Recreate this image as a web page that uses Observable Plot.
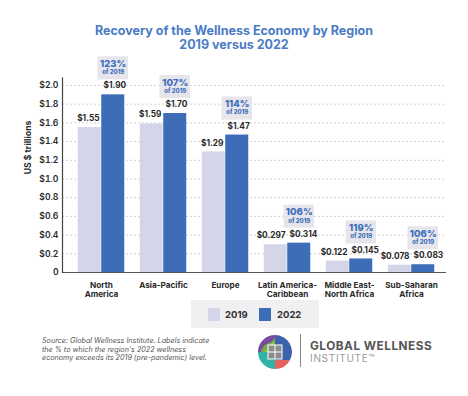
<!DOCTYPE html>
<html>
<head>
<meta charset="utf-8">
<script src="https://cdn.jsdelivr.net/npm/d3@7"></script>
<script src="https://cdn.jsdelivr.net/npm/@observablehq/plot@0.6"></script>
<style>
  body { margin: 0; background: #fff; }
  #wrap { position: relative; width: 468px; height: 396px; font-family: Inter, "Open Sans", sans-serif; overflow: hidden; }
  .title { height: 55px; box-sizing: border-box; padding-top: 24px; text-align: center; color: #4a7bc5; font-weight: 700; font-size: 12.5px; line-height: 14px; }
  #chart svg { display: block; }
  .legend { margin-left: 191px; width: 128px; height: 28px; background: #f0f0f3; position: relative; font-weight: 700; font-size: 9.5px; color: #333; }
  .legend .sw { position: absolute; top: 8px; width: 12px; height: 13px; }
  .legend .lb { position: absolute; top: 8px; line-height: 13px; }
  .footer { position: relative; height: 66px; }
  .source { position: absolute; left: 42px; top: 9px; white-space: nowrap; font-style: italic; font-size: 7.2px; line-height: 8.6px; color: #555; }
  .gwi1 { position: absolute; left: 310px; top: 11px; font-weight: 700; font-size: 11.8px; color: #555; letter-spacing: 0.5px; }
  .gwi2 { position: absolute; left: 310px; top: 24px; font-weight: 400; font-size: 10px; color: #9a9a9a; letter-spacing: 0.7px; }
  .vline { position: absolute; left: 300px; top: 6px; width: 1px; height: 33px; background: #888; }
  .logo { position: absolute; left: 255px; top: 4px; }
</style>
</head>
<body>
<div id="wrap">
  <div class="title">Recovery of the Wellness Economy by Region<br>2019 versus 2022</div>
  <div id="chart"></div>
  <div class="legend">
    <div class="sw" style="left:17px;background:#d5d5ea"></div><div class="lb" style="left:34px">2019</div>
    <div class="sw" style="left:68px;background:#3d6db6"></div><div class="lb" style="left:86px">2022</div>
  </div>
  <div class="footer">
    <div class="source">Source: Global Wellness Institute. Labels indicate<br>the % to which the region's 2022 wellness<br>economy exceeds its 2019 (pre-pandemic) level.</div>
    <svg class="logo" width="40" height="40" viewBox="0 0 40 40">
      <path d="M20,20 L20,3 A17,17 0 0 0 3,20 Z" fill="#7a4a9c"/>
      <path d="M20,20 L20,6 L8,20 Z" fill="#8dc04c"/>
      <path d="M9,20 L20,7 L20,10 A13,13 0 0 0 6,20 Z" fill="#6fae4a"/>
      <path d="M20,20 L20,3 A17,17 0 0 1 35,28 L20,28 Z" fill="#3b62aa"/>
      <path d="M20,20 L3,20 A17,17 0 0 0 20,37 Z" fill="#2fb3a6"/>
      <path d="M20,28 L35,28 A17,17 0 0 1 20,37 Z" fill="#e6625f"/>
      <rect x="13" y="13" width="14" height="14" fill="#8c8c8c" stroke="#fff" stroke-width="1"/>
      <line x1="20" y1="13" x2="20" y2="27" stroke="#fff" stroke-width="1"/>
      <line x1="13" y1="20" x2="27" y2="20" stroke="#fff" stroke-width="1"/>
    </svg>
    <div class="vline"></div>
    <div class="gwi1">GLOBAL WELLNESS</div>
    <div class="gwi2">INSTITUTE™</div>
  </div>
</div>
<script>
const regions = ["North America", "Asia-Pacific", "Europe", "Latin America-Caribbean", "Middle East-North Africa", "Sub-Saharan Africa"];
const regionLabels = ["North\nAmerica", "Asia-Pacific", "Europe", "Latin America-\nCaribbean", "Middle East-\nNorth Africa", "Sub-Saharan\nAfrica"];
const values2019 = [1.55, 1.59, 1.29, 0.297, 0.122, 0.078];
const values2022 = [1.90, 1.70, 1.47, 0.314, 0.145, 0.083];
const labels2019 = ["$1.55", "$1.59", "$1.29", "$0.297", "$0.122", "$0.078"];
const labels2022 = ["$1.90", "$1.70", "$1.47", "$0.314", "$0.145", "$0.083"];
const pctLabels = ["123%", "107%", "114%", "106%", "119%", "106%"];
const pctSub = "of 2019";
const yTicks = [0, 0.2, 0.4, 0.6, 0.8, 1.0, 1.2, 1.4, 1.6, 1.8, 2.0];
const yTickLabels = ["0", "$0.2", "$0.4", "$0.6", "$0.8", "$1.0", "$1.2", "$1.4", "$1.6", "$1.8", "$2.0"];
const yLabel = "US $ trillions";

const rows = regions.map((r, i) => ({
  region: r, label: regionLabels[i],
  v19: values2019[i], v22: values2022[i],
  l19: labels2019[i], l22: labels2022[i],
  pct: pctLabels[i], sub: pctSub
}));

const dark = "#2a2a2a";
const blueText = "#3f6fba";

const chart = Plot.plot({
  width: 468,
  height: 245,
  marginTop: 22.5,
  marginBottom: 28,
  marginLeft: 62,
  marginRight: 22,
  style: { fontFamily: "Inter, 'Open Sans', sans-serif", background: "#fff" },
  x: { domain: regions, range: [68, 443], padding: 0, axis: null },
  y: { domain: [0, 2.08], axis: null },
  marks: [
    Plot.ruleY(yTicks.filter(d => d > 0), { stroke: "#c9c9c9", strokeDasharray: "2,2", strokeWidth: 0.8 }),
    Plot.axisY({ ticks: yTicks, tickFormat: d => yTickLabels[yTicks.indexOf(d)], tickSize: 0, tickPadding: 4, label: null, fontSize: 8.7, fontWeight: 600, fill: dark }),
    Plot.text([yLabel], { frameAnchor: "left", rotate: -90, dx: -34, dy: -1, fontSize: 8.7, fontWeight: 700, fill: dark }),
    Plot.barY(rows, { x: "region", y: "v19", fill: "#d5d5ea", insetLeft: 7.75, insetRight: 31.25 }),
    Plot.barY(rows, { x: "region", y: "v22", fill: "#3d6db6", insetLeft: 31.25, insetRight: 7.75 }),
    Plot.barY(rows, { x: "region", y1: "v22", y2: "v22", fill: "#e5e5eb", insetLeft: 27.5, insetRight: 4, insetTop: -38, insetBottom: 15 }),
    Plot.text(rows, { x: "region", y: "v22", text: "pct", dx: 11.75, dy: -31, fill: blueText, fontSize: 9.5, fontWeight: 800 }),
    Plot.text(rows, { x: "region", y: "v22", text: "sub", dx: 11.75, dy: -22.5, fill: blueText, fontSize: 6, fontWeight: 800 }),
    Plot.text(rows, { x: "region", y: "v19", text: "l19", textAnchor: "end", dx: -2, dy: -9, fill: dark, fontSize: 8.3, fontWeight: 700 }),
    Plot.text(rows, { x: "region", y: "v22", text: "l22", textAnchor: "start", dx: 2, dy: -9, fill: dark, fontSize: 8.3, fontWeight: 700 }),
    Plot.ruleY([0], { stroke: "#555", strokeWidth: 1.2 }),
    Plot.frame({ anchor: "left", stroke: "#444", strokeWidth: 1.2 }),
    Plot.text(rows, { x: "region", text: "label", frameAnchor: "bottom", lineAnchor: "top", dy: 9, lineHeight: 1.1, fontSize: 8.2, fontWeight: 700, fill: dark })
  ]
});
document.getElementById("chart").appendChild(chart);
</script>
</body>
</html>
